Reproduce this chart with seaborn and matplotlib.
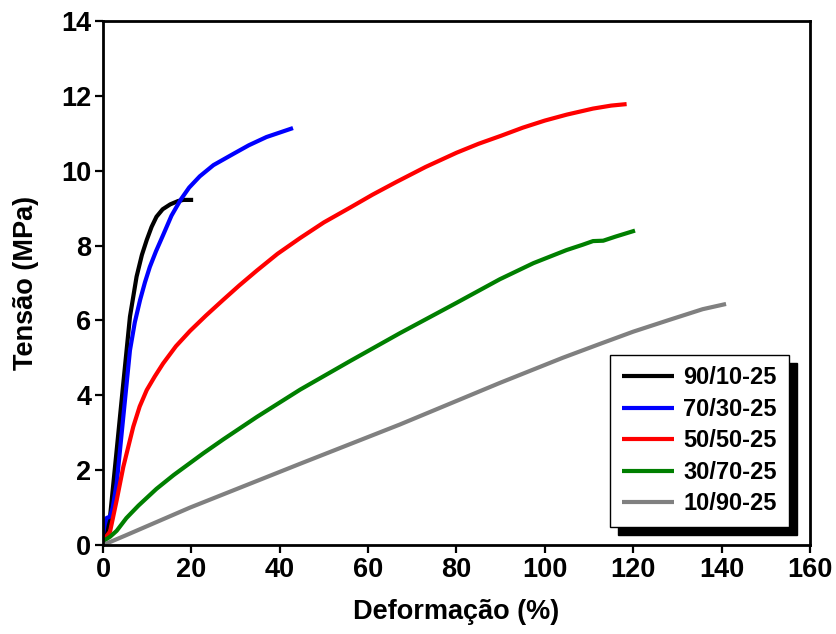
import numpy as np
import pandas as pd
import matplotlib
matplotlib.use("Agg")
import matplotlib.pyplot as plt
import seaborn as sns

# ---- data ----
series_names = ["90/10-25", "70/30-25", "50/50-25", "30/70-25", "10/90-25"]
series_colors = ["#000000", "#0000ff", "#ff0000", "#007f00", "#808080"]

black_x = [0, 0.5, 1.6, 3.1, 4.6, 6.1, 7.6, 8.8, 9.9, 11.0, 12.1, 13.5, 15.2, 17.0, 18.2, 20.4]
black_y = [0.1, 0.25, 0.76, 2.54, 4.33, 6.1, 7.17, 7.75, 8.15, 8.5, 8.77, 8.97, 9.1, 9.19, 9.22, 9.22]

blue_x = [0, 0.4, 0.8, 1.6, 2.2, 3.1, 4.6, 6.1, 7.2, 8.4, 9.5, 10.6, 12.0, 13.6, 15.5, 17.6,
          19.5, 21.9, 25.0, 29.5, 33.0, 37.0, 43.0]
blue_y = [0.3, 0.55, 0.72, 0.76, 1.0, 1.65, 3.43, 5.2, 5.95, 6.55, 7.02, 7.43, 7.85, 8.28, 8.8, 9.23,
          9.55, 9.85, 10.15, 10.45, 10.68, 10.9, 11.14]

red_x = [0, 0.5, 1.6, 3.1, 4.6, 6.85, 8.3, 9.9, 11.7, 13.6, 16.5, 19.7, 23.3, 27.2, 30.8, 34.8,
         39.5, 44.6, 50.0, 56.0, 61.0, 66.4, 73.0, 80.0, 85.0, 90.0, 95.0, 100.0, 105.0,
         110.9, 115.0, 118.5]
red_y = [0.1, 0.19, 0.36, 1.2, 2.09, 3.16, 3.7, 4.14, 4.5, 4.85, 5.31, 5.72, 6.13, 6.55, 6.93, 7.33,
         7.78, 8.2, 8.62, 9.02, 9.36, 9.7, 10.1, 10.48, 10.72, 10.93, 11.15, 11.34, 11.5,
         11.66, 11.74, 11.78]

green_x = [0, 1.6, 3.1, 5.3, 8.0, 12.1, 16.0, 22.7, 27.2, 34.8, 44.6, 56.0, 67.2, 80.0,
           89.8, 97.4, 104.9, 108.5, 110.9, 113.2, 116.0, 120.4]
green_y = [0.1, 0.22, 0.38, 0.72, 1.05, 1.5, 1.87, 2.45, 2.82, 3.42, 4.15, 4.92, 5.66, 6.47,
           7.1, 7.53, 7.88, 8.02, 8.12, 8.13, 8.24, 8.4]

gray_x = [0, 5, 19.7, 44.6, 67.2, 89.8, 104.0, 112.4, 120, 128.3, 135.7, 141]
gray_y = [0, 0.25, 1.0, 2.17, 3.22, 4.33, 5.0, 5.37, 5.7, 6.02, 6.3, 6.44]

x_ticks = [0, 20, 40, 60, 80, 100, 120, 140, 160]
y_ticks = [0, 2, 4, 6, 8, 10, 12, 14]
x_label = "Deformação (%)"
y_label = "Tensão (MPa)"

# ---- long-form table ----
all_x = [black_x, blue_x, red_x, green_x, gray_x]
all_y = [black_y, blue_y, red_y, green_y, gray_y]
frames = []
for name, xs, ys in zip(series_names, all_x, all_y):
    frames.append(pd.DataFrame({"x": xs, "y": ys, "series": name}))
df = pd.concat(frames, ignore_index=True)

sns.set_theme(style="white")
plt.rcParams["font.family"] = ["Liberation Sans", "DejaVu Sans"]
plt.rcParams["font.weight"] = "bold"
plt.rcParams["text.color"] = "black"
plt.rcParams["axes.labelcolor"] = "black"
plt.rcParams["xtick.color"] = "black"
plt.rcParams["ytick.color"] = "black"
plt.rcParams["lines.solid_capstyle"] = "butt"
plt.rcParams["lines.solid_joinstyle"] = "round"

fig = plt.figure(figsize=(8.37, 6.34), dpi=100)
ax = fig.add_axes([103 / 837, 89 / 634, 707 / 837, 524 / 634])

sns.lineplot(data=df, x="x", y="y", hue="series", hue_order=series_names,
             palette=dict(zip(series_names, series_colors)),
             sort=False, estimator=None, units="series", linewidth=3.0,
             ax=ax, legend=True)

ax.set_xlim(0, 160)
ax.set_ylim(0, 14)
ax.set_xticks(x_ticks)
ax.set_yticks(y_ticks)
ax.set_xlabel(x_label, fontsize=19.5, fontweight="bold", labelpad=12, color="black")
ax.set_ylabel(y_label, fontsize=19.5, fontweight="bold", labelpad=16, color="black")
ax.tick_params(axis="both", which="major", direction="out", length=5.5,
               width=1.6, labelsize=19.5, color="black", labelcolor="black", pad=3,
               bottom=True, left=True, top=False, right=False)
for lab in ax.get_xticklabels() + ax.get_yticklabels():
    lab.set_fontweight("bold")
for sp in ax.spines.values():
    sp.set_visible(True)
    sp.set_color("black")
    sp.set_linewidth(2.0)

handles, labels = ax.get_legend_handles_labels()
for h in handles:
    h.set_linewidth(3.0)
leg = ax.legend(handles, labels, loc="lower right",
                bbox_to_anchor=(0.970, 0.034), borderaxespad=0,
                fancybox=False, framealpha=1, edgecolor="black",
                prop={"weight": "bold", "size": 17},
                handlelength=2.2, handletextpad=0.4, labelspacing=0.36,
                borderpad=0.5, labelcolor="black",
                shadow={"ox": 5.8, "oy": -5.8, "facecolor": "black",
                        "edgecolor": "black", "alpha": 1})
leg.get_frame().set_linewidth(1.0)

fig.savefig("out.png", dpi=100)
